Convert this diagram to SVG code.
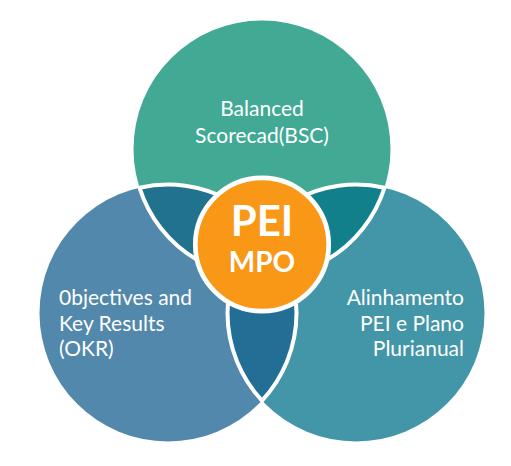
<svg xmlns="http://www.w3.org/2000/svg" width="511" height="466" viewBox="0 0 511 466">
<style>
.lbl{font-family:Lato,"Open Sans","Liberation Sans",sans-serif;font-size:21px;fill:#FFFFFF}
.lens{stroke:#FFFFFF;stroke-width:4;stroke-linejoin:round}
.core{font-family:Lato,"Open Sans","Liberation Sans",sans-serif;font-weight:bold;fill:#FFFFFF;text-anchor:middle}
</style>
<rect width="511" height="466" fill="#FFFFFF"/>
<g id="bsc">
<circle cx="262" cy="149" r="128.5" fill="#42AA94"/>
<text class="lbl" x="262" y="116" text-anchor="middle">Balanced</text>
<text class="lbl" x="262" y="142.5" text-anchor="middle">Scorecad(BSC)</text>
</g>
<g id="okr">
<circle cx="168" cy="313" r="128.5" fill="#5188AB"/>
<text class="lbl" x="59" y="305">0bjectives and</text>
<text class="lbl" x="59" y="330.5">Key Results</text>
<text class="lbl" x="59" y="356">(OKR)</text>
</g>
<g id="ppa">
<circle cx="356" cy="313" r="128.5" fill="#4296A7"/>
<text class="lbl" x="464" y="305" text-anchor="end">Alinhamento</text>
<text class="lbl" x="464" y="330.5" text-anchor="end">PEI e Plano</text>
<text class="lbl" x="464" y="356" text-anchor="end">Plurianual</text>
</g>
<g id="overlaps">
<path id="lens-bsc-okr" class="lens" fill="#21728F" d="M139.47 187.71A128.5 128.5 0 0 1 290.53 274.29A128.5 128.5 0 0 1 139.47 187.71Z"/>
<path id="lens-bsc-ppa" class="lens" fill="#11808A" d="M233.47 274.29A128.5 128.5 0 0 1 384.53 187.71A128.5 128.5 0 0 1 233.47 274.29Z"/>
<path id="lens-okr-ppa" class="lens" fill="#226E94" d="M262 400.61A128.5 128.5 0 0 1 262 225.39A128.5 128.5 0 0 1 262 400.61Z"/>
</g>
<g id="pei">
<circle cx="262" cy="244.5" r="66.7" fill="#F99816" stroke="#FFFFFF" stroke-width="4.7"/>
<text class="core" x="262" y="236" font-size="42">PEI</text>
<text class="core" x="262" y="272" font-size="28">MPO</text>
</g>
</svg>
